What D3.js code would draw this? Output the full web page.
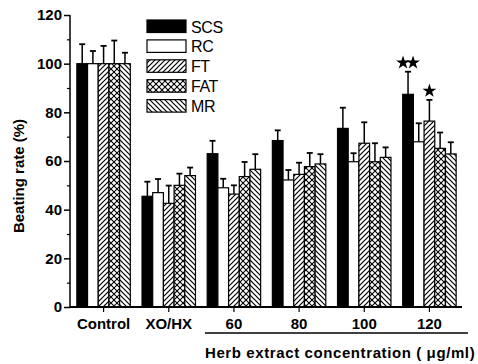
<!DOCTYPE html>
<html><head><meta charset="utf-8">
<script src="https://cdn.jsdelivr.net/npm/d3@7"></script>
<style>
html,body{margin:0;padding:0;background:#fff;}
text{font-family:"Liberation Sans",Arial,sans-serif;font-weight:bold;fill:#000;}
</style></head>
<body>
<svg id="c" width="478" height="364"></svg>
<script>
const categories = ["Control","XO/HX","60","80","100","120"];
const seriesNames = ["SCS","RC","FT","FAT","MR"];
const SCS = [100, 45.5, 63, 68.4, 73.4, 87.4];
const RC  = [100, 47, 49, 52.2, 59.7, 67.9];
const FT  = [100, 42.6, 46.4, 54.5, 67.3, 76.4];
const FAT = [100, 50, 53.6, 57.7, 59.7, 65.2];
const MR  = [100, 54, 56.6, 58.8, 61.5, 62.9];
const SCSerr = [8, 6, 5.3, 4.2, 8.5, 9.3];
const RCerr  = [5.2, 5.6, 3.7, 4.1, 3.5, 7.6];
const FTerr  = [7.3, 7.3, 3.6, 4.8, 8.6, 8.7];
const FATerr = [9.5, 4.8, 6, 5.6, 7.6, 6.5];
const MRerr  = [4.5, 3.3, 6.2, 4, 4.1, 4.8];
const yTicks = [0,20,40,60,80,100,120];
const signif = [{cat:"120", series:"SCS", mark:2}, {cat:"120", series:"FT", mark:1}];
const xTitle = "Herb extract concentration ( \u03bcg/ml)";
const yTitle = "Beating rate (%)";

const values = {SCS, RC, FT, FAT, MR};
const errs = {SCS:SCSerr, RC:RCerr, FT:FTerr, FAT:FATerr, MR:MRerr};

const svg = d3.select("#c");
const defs = svg.append("defs");
function hatch(id, w, d, sw){
  const p = defs.append("pattern").attr("id",id).attr("patternUnits","userSpaceOnUse")
    .attr("width",w).attr("height",w);
  p.append("rect").attr("width",w).attr("height",w).attr("fill","#fff");
  d.forEach(dd=>p.append("path").attr("d",dd).attr("stroke","#000").attr("stroke-width",sw).attr("fill","none"));
}
hatch("pFT", 5, ["M-1,1 L1,-1","M0,5 L5,0","M4,6 L6,4"], 1.2);
hatch("pMR", 5, ["M-1,4 L1,6","M0,0 L5,5","M4,-1 L6,1"], 1.2);
hatch("pFAT", 6, ["M0,0 L6,6","M6,0 L0,6","M-1,5 L1,7","M5,-1 L7,1","M-1,1 L1,-1","M5,7 L7,5"], 1.1);
const fills = {SCS:"#000", RC:"#fff", FT:"url(#pFT)", FAT:"url(#pFAT)", MR:"url(#pMR)"};

const y = d3.scaleLinear().domain([0,120]).range([307,15]);
const x0 = d3.scaleBand().domain(categories).range([71,462]).paddingInner(0.18).paddingOuter(0.09);
const x1 = d3.scaleBand().domain(seriesNames).range([0, x0.bandwidth()]);

// bars
const g = svg.append("g");
categories.forEach((c,i)=>{
  seriesNames.forEach(s=>{
    const v = values[s][i], e = errs[s][i];
    const bx = x0(c)+x1(s), bw = x1.bandwidth();
    const cx = bx + bw/2;
    g.append("line").attr("x1",cx).attr("x2",cx).attr("y1",y(v)).attr("y2",y(v+e))
      .attr("stroke","#000").attr("stroke-width",1.5);
    g.append("line").attr("x1",cx-3).attr("x2",cx+3).attr("y1",y(v+e)).attr("y2",y(v+e))
      .attr("stroke","#000").attr("stroke-width",1.8);
    g.append("rect").attr("x",bx).attr("y",y(v)).attr("width",bw).attr("height",y(0)-y(v))
      .attr("fill",fills[s]).attr("stroke","#000").attr("stroke-width",1.2);
  });
});

// significance stars
const star = d3.symbol().type(d3.symbolStar).size(60);
signif.forEach(d=>{
  const i = categories.indexOf(d.cat);
  const cx = x0(d.cat)+x1(d.series)+x1.bandwidth()/2;
  const top = y(values[d.series][i]+errs[d.series][i]);
  const yy = top - 9;
  for(let k=0;k<d.mark;k++){
    const dx = d.mark===2 ? (k===0?-5:5) : 0;
    svg.append("path").attr("d",star()).attr("transform",`translate(${cx+dx},${yy})`).attr("fill","#000");
  }
});

// axes
const yAxis = d3.axisLeft(y).tickValues(yTicks).tickSize(6).tickPadding(2).tickFormat(d3.format("d"));
const ya = svg.append("g").attr("transform","translate(70,0)").call(yAxis);
ya.select(".domain").attr("stroke-width",1.5).attr("d","M0,15V307");
ya.selectAll(".tick line").attr("stroke-width",1.5);
ya.selectAll("text").style("font-size","15px").style("font-family","Liberation Sans, Arial").style("font-weight","bold");
const yMinor = d3.axisLeft(y).tickValues(d3.range(10,120,20)).tickSize(3).tickFormat("");
const ym = svg.append("g").attr("transform","translate(70,0)").call(yMinor);
ym.select(".domain").remove();
ym.selectAll(".tick line").attr("stroke-width",1.2);

const xAxis = d3.axisBottom(x0).tickSize(5).tickPadding(6);
const xa = svg.append("g").attr("transform","translate(0,307)").call(xAxis);
xa.select(".domain").attr("stroke-width",1.8).attr("d","M70,0H462");
xa.selectAll(".tick line").attr("stroke-width",1.2);
xa.selectAll("text").style("font-size","15px").style("font-family","Liberation Sans, Arial").style("font-weight","bold");

// bracket line under herb concentrations
svg.append("line").attr("x1",205).attr("x2",468).attr("y1",333).attr("y2",333).attr("stroke","#000").attr("stroke-width",1.5);
svg.append("text").attr("x",205).attr("y",358).style("font-size","15px").style("letter-spacing","0.6px").text(xTitle);
svg.append("text").attr("transform","translate(24,176) rotate(-90)").attr("text-anchor","middle").style("font-size","15px").text(yTitle);

// legend
const leg = svg.append("g");
seriesNames.forEach((s,i)=>{
  const yy = 20 + i*19.9;
  leg.append("rect").attr("x",147).attr("y",yy).attr("width",39).attr("height",12.5)
    .attr("fill",fills[s]).attr("stroke","#000").attr("stroke-width",1.2);
  leg.append("text").attr("x",191).attr("y",yy+12.5).style("font-size","16px").style("font-weight","normal").style("letter-spacing","-0.4px").text(s);
});
</script>
</body></html>
